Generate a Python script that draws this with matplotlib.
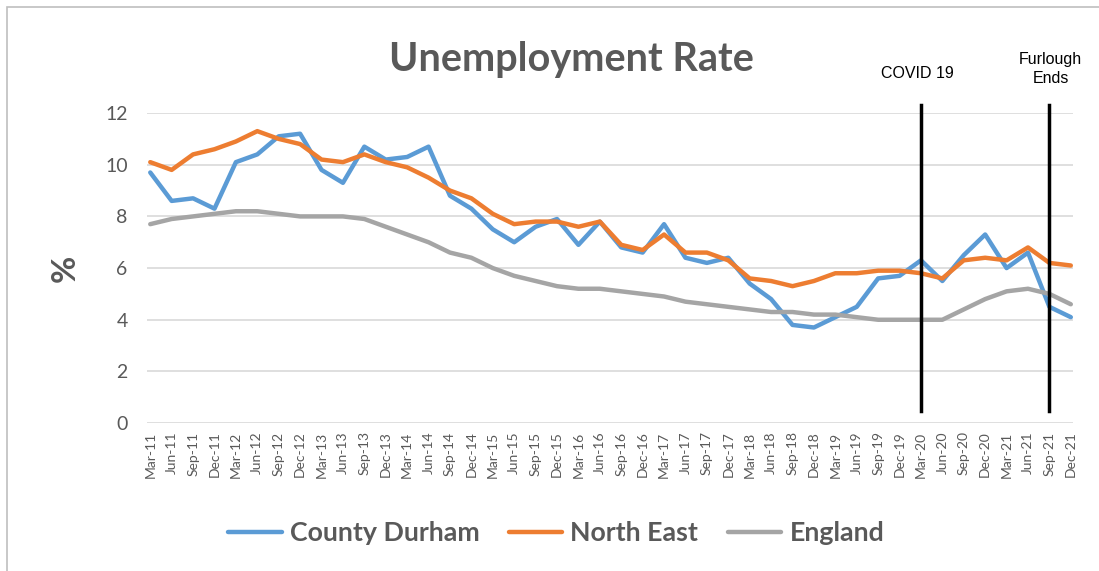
import matplotlib.pyplot as plt
from matplotlib.patches import Rectangle

quarters = ['Mar-11', 'Jun-11', 'Sep-11', 'Dec-11', 'Mar-12', 'Jun-12', 'Sep-12', 'Dec-12',
            'Mar-13', 'Jun-13', 'Sep-13', 'Dec-13', 'Mar-14', 'Jun-14', 'Sep-14', 'Dec-14',
            'Mar-15', 'Jun-15', 'Sep-15', 'Dec-15', 'Mar-16', 'Jun-16', 'Sep-16', 'Dec-16',
            'Mar-17', 'Jun-17', 'Sep-17', 'Dec-17', 'Mar-18', 'Jun-18', 'Sep-18', 'Dec-18',
            'Mar-19', 'Jun-19', 'Sep-19', 'Dec-19', 'Mar-20', 'Jun-20', 'Sep-20', 'Dec-20',
            'Mar-21', 'Jun-21', 'Sep-21', 'Dec-21']

county_durham = [9.7, 8.6, 8.7, 8.3, 10.1, 10.4, 11.1, 11.2, 9.8, 9.3, 10.7, 10.2,
                 10.3, 10.7, 8.8, 8.3, 7.5, 7.0, 7.6, 7.9, 6.9, 7.8, 6.8, 6.6,
                 7.7, 6.4, 6.2, 6.4, 5.4, 4.8, 3.8, 3.7, 4.1, 4.5, 5.6, 5.7,
                 6.3, 5.5, 6.5, 7.3, 6.0, 6.6, 4.5, 4.1]
north_east = [10.1, 9.8, 10.4, 10.6, 10.9, 11.3, 11.0, 10.8, 10.2, 10.1, 10.4, 10.1,
              9.9, 9.5, 9.0, 8.7, 8.1, 7.7, 7.8, 7.8, 7.6, 7.8, 6.9, 6.7,
              7.3, 6.6, 6.6, 6.3, 5.6, 5.5, 5.3, 5.5, 5.8, 5.8, 5.9, 5.9,
              5.8, 5.6, 6.3, 6.4, 6.3, 6.8, 6.2, 6.1]
england = [7.7, 7.9, 8.0, 8.1, 8.2, 8.2, 8.1, 8.0, 8.0, 8.0, 7.9, 7.6,
           7.3, 7.0, 6.6, 6.4, 6.0, 5.7, 5.5, 5.3, 5.2, 5.2, 5.1, 5.0,
           4.9, 4.7, 4.6, 4.5, 4.4, 4.3, 4.3, 4.2, 4.2, 4.1, 4.0, 4.0,
           4.0, 4.0, 4.4, 4.8, 5.1, 5.2, 5.0, 4.6]

events = ['Mar-20', 'Sep-21']
event_labels = ['COVID 19', 'Furlough\nEnds']

txt = '#595959'
plt.rcParams['font.family'] = ['Lato', 'DejaVu Sans']

fig = plt.figure(figsize=(10.99, 5.71), dpi=100)
ax = fig.add_axes([0.1338, 0.259, 0.8425, 0.543])

x = list(range(len(quarters)))
ax.plot(x, county_durham, color='#5b9bd5', lw=3.2, label='County Durham', solid_capstyle='round')
ax.plot(x, north_east, color='#ed7d31', lw=3.2, label='North East', solid_capstyle='round')
ax.plot(x, england, color='#a5a5a5', lw=3.2, label='England', solid_capstyle='round')

# event markers
for ev, lab in zip(events, event_labels):
    i = quarters.index(ev)
    ax.plot([i, i], [0.45, 12.3], color='black', lw=2.5, clip_on=False)
    if ev == 'Mar-20':
        ax.text(i - 0.15, 13.25, lab, ha='center', va='bottom',
                fontsize=11.5, family='Liberation Sans')
    else:
        ax.text(i + 0.05, 13.05, lab, ha='center', va='bottom',
                fontsize=11.5, family='Liberation Sans', linespacing=1.35)

ax.set_xlim(-0.15, 43.1)
ax.set_ylim(0, 12)
ax.set_yticks(range(0, 13, 2))
ax.set_xticks(x)
ax.set_xticklabels(quarters, rotation=90, fontsize=10, color=txt)
ax.tick_params(axis='y', labelsize=14, labelcolor=txt, length=0, pad=14)
ax.tick_params(axis='x', length=0, pad=6)
ax.grid(axis='y', color='#d9d9d9', lw=1.2)
ax.set_axisbelow(True)
for s in ax.spines.values():
    s.set_visible(False)

ax.set_ylabel('%', fontsize=24, fontweight='bold', color=txt, labelpad=18)
fig.text(0.52, 0.895, 'Unemployment Rate', ha='center', va='center',
         fontsize=28.5, fontweight='bold', color=txt)

leg = fig.legend(loc='center', bbox_to_anchor=(0.506, 0.066), ncol=3, frameon=False,
                 prop={'size': 19.3, 'weight': 'bold'}, handlelength=2.0,
                 handletextpad=0.3, columnspacing=1.1)
for t in leg.get_texts():
    t.set_color(txt)

fig.patches.append(Rectangle((7 / 1099, -0.1), 1.2, 1 - 7 / 571 + 0.1,
                             transform=fig.transFigure, fill=False,
                             edgecolor='#bfbfbf', lw=1.2))

plt.savefig('out.png', dpi=100)
